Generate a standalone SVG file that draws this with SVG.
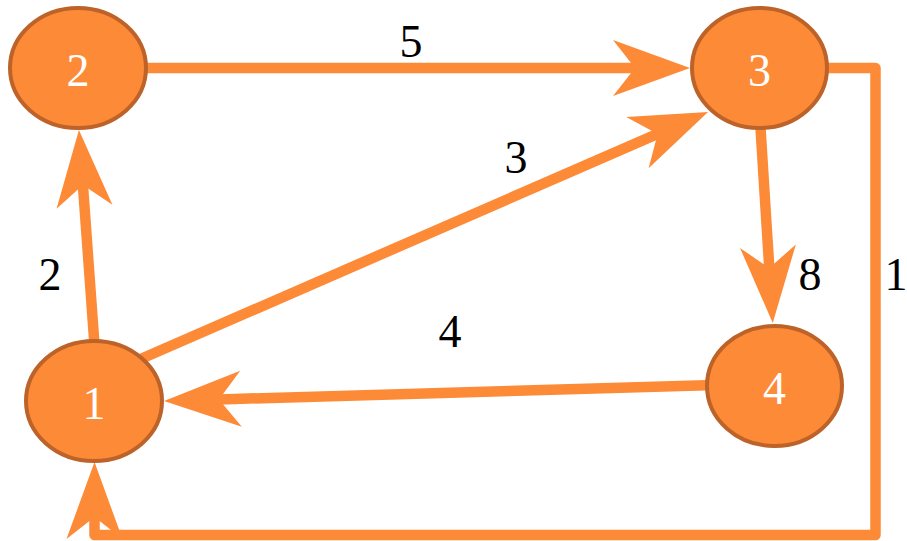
<svg xmlns="http://www.w3.org/2000/svg" width="907" height="541" viewBox="0 0 907 541">
  <style>
    .edge { fill: none; stroke: #fd8a37; stroke-width: 10.5; stroke-linejoin: round; marker-end: url(#arrow); }
    .node ellipse { fill: #fd8a37; stroke: #bd6329; stroke-width: 4; }
    .node text { fill: #ffffff; font-family: "Liberation Serif", "DejaVu Serif", serif; font-size: 46px; text-anchor: middle; }
    .label { fill: #000000; font-family: "Liberation Serif", "DejaVu Serif", serif; font-size: 46px; text-anchor: middle; }
  </style>
  <defs>
    <marker id="arrow" markerUnits="userSpaceOnUse" markerWidth="90" markerHeight="70" viewBox="-25 -32 90 64" refX="0" refY="0" orient="auto" overflow="visible">
      <path d="M55,0 L-22,-28 L0,0 L-22,28 Z" fill="#fd8a37"/>
    </marker>
  </defs>
  <g id="edges">
    <path id="e2-3" class="edge" d="M140,68 L635,68"/>
    <path id="e1-3" class="edge" d="M120,368 L657.6,133.9"/>
    <path id="e1-2" class="edge" d="M94.5,345 L82.9,184.9"/>
    <path id="e3-4" class="edge" d="M760,120 L769.3,268.1"/>
    <path id="e4-1" class="edge" d="M715,385 L219,399.4"/>
    <path id="e3-1" class="edge" d="M820,68 L875.5,68 L875.5,535 L94.5,535 L94.5,517"/>
  </g>
  <g id="edge-labels">
    <text class="label" x="411" y="57">5</text>
    <text class="label" x="516" y="173">3</text>
    <text class="label" x="50" y="290">2</text>
    <text class="label" x="810" y="290">8</text>
    <text class="label" x="896" y="290">1</text>
    <text class="label" x="450" y="347">4</text>
  </g>
  <g id="node2" class="node">
    <ellipse cx="78" cy="68" rx="68" ry="60"/>
    <text x="78" y="86">2</text>
  </g>
  <g id="node3" class="node">
    <ellipse cx="759.5" cy="68" rx="67.5" ry="60"/>
    <text x="759.5" y="86">3</text>
  </g>
  <g id="node1" class="node">
    <ellipse cx="94" cy="401" rx="68" ry="60"/>
    <text x="94" y="419">1</text>
  </g>
  <g id="node4" class="node">
    <ellipse cx="774.5" cy="386" rx="67.5" ry="60"/>
    <text x="774.5" y="404">4</text>
  </g>
</svg>
